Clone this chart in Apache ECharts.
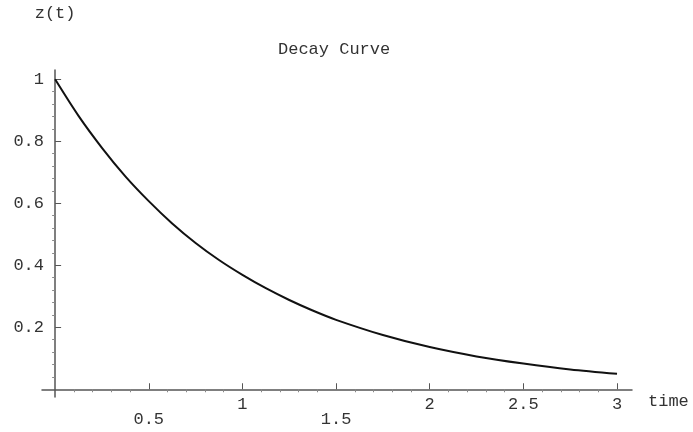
<!DOCTYPE html>
<html>
<head>
<meta charset="utf-8">
<script src="https://cdn.jsdelivr.net/npm/echarts@6/dist/echarts.min.js"></script>
<style>
  html, body { margin: 0; padding: 0; background: #fff; }
  #chart { width: 693px; height: 432px; }
</style>
</head>
<body>
<div id="chart"></div>
<script>
// values
const timeValues = [0, 0.125, 0.25, 0.375, 0.5, 0.625, 0.75, 0.875, 1, 1.125, 1.25, 1.375, 1.5,
  1.75, 2, 2.25, 2.5, 2.75, 3];
const zValues = [1.0, 0.882, 0.779, 0.687, 0.607, 0.535, 0.472, 0.417, 0.369, 0.326, 0.288, 0.254, 0.224,
  0.175, 0.136, 0.106, 0.083, 0.064, 0.05];

const xMajorTicks = [0.5, 1, 1.5, 2, 2.5, 3];
const xMinorTicks = [0.1, 0.2, 0.3, 0.4, 0.6, 0.7, 0.8, 0.9, 1.1, 1.2, 1.3, 1.4, 1.6, 1.7, 1.8, 1.9,
  2.1, 2.2, 2.3, 2.4, 2.6, 2.7, 2.8, 2.9];
const xLowLabels = [0.5, 1.5];
const yMajorTicks = [0.2, 0.4, 0.6, 0.8, 1];
const yMinorTicks = [0.04, 0.08, 0.12, 0.16, 0.24, 0.28, 0.32, 0.36, 0.44, 0.48, 0.52, 0.56,
  0.64, 0.68, 0.72, 0.76, 0.84, 0.88, 0.92, 0.96];

const font = "Liberation Mono";
const axisColor = "#555";
const textColor = "#333";

const chart = echarts.init(document.getElementById("chart"));

let option = {
  animation: false,
  backgroundColor: "#fff",
  title: {
    text: "Decay Curve",
    left: 273,
    top: 36,
    textStyle: { fontFamily: font, fontSize: 17, fontWeight: "normal", color: textColor }
  },
  grid: { left: 42, right: 61, top: 70, bottom: 35 },
  xAxis: [
    {
      type: "value",
      min: -0.07,
      max: 3.08,
      name: "time",
      nameLocation: "end",
      nameGap: 16,
      nameTextStyle: {
        fontFamily: font, fontSize: 17, color: textColor,
        verticalAlign: "top", padding: [4, 0, 0, 0]
      },
      splitLine: { show: false },
      axisLine: { onZero: true, onZeroAxisIndex: 0, lineStyle: { color: axisColor, width: 1.5 } },
      axisTick: { show: true, inside: true, length: 6, customValues: xMajorTicks, lineStyle: { color: axisColor } },
      axisLabel: {
        customValues: xMajorTicks,
        margin: 0,
        fontFamily: font,
        fontSize: 17,
        color: textColor,
        lineHeight: 15,
        formatter: v => (xLowLabels.includes(v) ? "\n" + v : String(v))
      }
    },
    {
      type: "value",
      min: -0.07,
      max: 3.08,
      splitLine: { show: false },
      axisLine: { show: false, onZero: true, onZeroAxisIndex: 0 },
      axisTick: { show: true, inside: true, length: 3, customValues: xMinorTicks, lineStyle: { color: "#888" } },
      axisLabel: { show: false }
    }
  ],
  yAxis: [
    {
      type: "value",
      min: -0.025,
      max: 1.03,
      name: "z(t)",
      nameLocation: "end",
      nameGap: 48,
      nameTextStyle: { fontFamily: font, fontSize: 17, color: textColor, align: "center" },
      splitLine: { show: false },
      axisLine: { onZero: true, onZeroAxisIndex: 0, lineStyle: { color: axisColor, width: 1.5 } },
      axisTick: { show: true, inside: true, length: 6, customValues: yMajorTicks, lineStyle: { color: axisColor } },
      axisLabel: {
        customValues: yMajorTicks,
        margin: -2,
        fontFamily: font,
        fontSize: 17,
        color: textColor,
        formatter: v => String(v)
      }
    },
    {
      type: "value",
      min: -0.025,
      max: 1.03,
      splitLine: { show: false },
      axisLine: { show: false, onZero: true, onZeroAxisIndex: 0 },
      axisTick: { show: true, inside: true, length: 3, customValues: yMinorTicks, lineStyle: { color: "#888" } },
      axisLabel: { show: false }
    }
  ],
  series: [
    {
      type: "line",
      xAxisIndex: 0,
      yAxisIndex: 0,
      smooth: 0.3,
      showSymbol: false,
      lineStyle: { color: "#111", width: 2 },
      data: timeValues.map((t, i) => [t, zValues[i]])
    }
  ]
};

chart.setOption(option);
</script>
</body>
</html>
